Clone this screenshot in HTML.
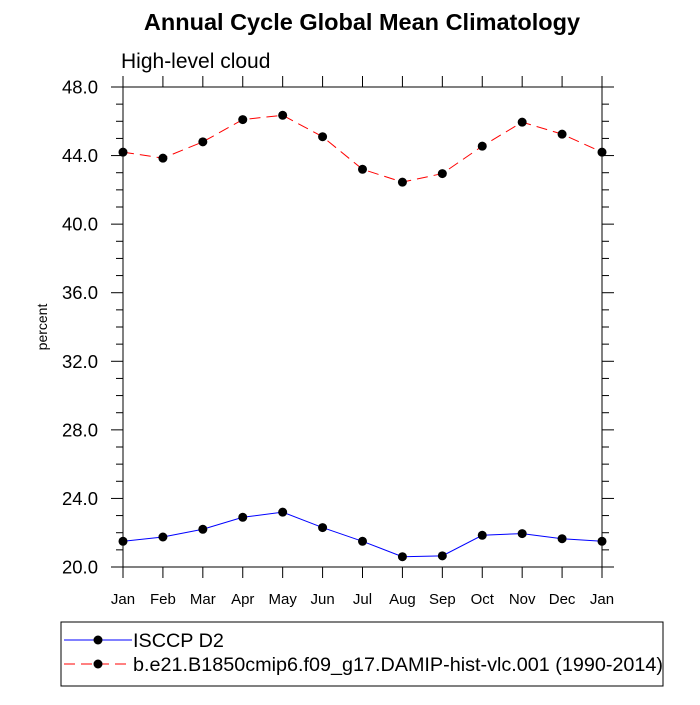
<!DOCTYPE html>
<html><head><meta charset="utf-8"><style>body{margin:0;background:#fff}svg{font-family:"Liberation Sans",sans-serif}</style></head>
<body>
<svg id="chart" width="700" height="700" viewBox="0 0 700 700" xmlns="http://www.w3.org/2000/svg">
<text x="362" y="30" text-anchor="middle" font-size="23.5" font-weight="bold">Annual Cycle Global Mean Climatology</text>
<text x="121" y="68" font-size="21">High-level cloud</text>
<text transform="translate(47,327) rotate(-90)" text-anchor="middle" font-size="14">percent</text>
<g id="axes"></g>
<g id="series"></g>
<g>
<rect x="61" y="622" width="602" height="64" fill="none" stroke="#000" stroke-width="1"/>
<g>
<line x1="64" y1="640" x2="132" y2="640" stroke="#00f" stroke-width="1"/>
<circle cx="98" cy="640" r="4.5" fill="#000"/>
<text x="133" y="647" font-size="19.8">ISCCP D2</text></g>
<g>
<line x1="64" y1="664" x2="132" y2="664" stroke="#f00" stroke-width="1" stroke-dasharray="11,6"/>
<circle cx="98" cy="664" r="4.5" fill="#000"/>
<text x="133" y="671" font-size="19.8">b.e21.B1850cmip6.f09_g17.DAMIP-hist-vlc.001 (1990-2014)</text></g>
</g>
</svg>
<script>
const months = ["Jan","Feb","Mar","Apr","May","Jun","Jul","Aug","Sep","Oct","Nov","Dec","Jan"];
const isccpValues = [21.5,21.75,22.2,22.9,23.2,22.3,21.5,20.6,20.65,21.85,21.95,21.65,21.5];
const modelValues = [44.2,43.85,44.8,46.1,46.35,45.1,43.2,42.45,42.95,44.55,45.95,45.25,44.2];
const yTickLabels = ["20.0","24.0","28.0","32.0","36.0","40.0","44.0","48.0"];
const NS="http://www.w3.org/2000/svg";
const X0=123,X1=602,Y0=567,Y1=87,YMIN=20,YMAX=48;
const xs=i=>X0+(X1-X0)*i/(months.length-1);
const ys=v=>Y0-(v-YMIN)/(YMAX-YMIN)*(Y0-Y1);
function mk(tag,attrs,parent){const e=document.createElementNS(NS,tag);for(const k in attrs)e.setAttribute(k,attrs[k]);parent.appendChild(e);return e;}
const ax=document.getElementById('axes');
const frame=mk('rect',{x:X0,y:Y1,width:X1-X0,height:Y0-Y1,fill:'none',stroke:'#000','stroke-width':1},ax);


for(let v=YMIN;v<=YMAX;v++){
  const major=(v-YMIN)%4===0, L=major?12:7, y=ys(v);
  mk('line',{x1:X0-L,y1:y,x2:X0,y2:y,stroke:'#000'},ax);
  mk('line',{x1:X1,y1:y,x2:X1+L,y2:y,stroke:'#000'},ax);
}
yTickLabels.forEach(s=>{
  const t=mk('text',{x:X0-25,y:ys(parseFloat(s))+6.5,'text-anchor':'end','font-size':18.5},ax);
  t.textContent=s;
  
  
});
months.forEach((m,i)=>{
  const x=xs(i);
  mk('line',{x1:x,y1:Y0,x2:x,y2:Y0+11,stroke:'#000'},ax);
  mk('line',{x1:x,y1:Y1-11,x2:x,y2:Y1,stroke:'#000'},ax);
  const t=mk('text',{x:x,y:604,'text-anchor':'middle','font-size':15},ax);
  t.textContent=m;
  
  
});
const sg=document.getElementById('series');
function series(vals,color,dash,name){
  const g=mk('g',{},sg);
  
  
  const p=mk('polyline',{points:vals.map((v,i)=>xs(i)+','+ys(v)).join(' '),fill:'none',stroke:color,'stroke-width':1},g);
  if(dash)p.setAttribute('stroke-dasharray',dash);
  vals.forEach((v,i)=>{
    const c=mk('circle',{cx:xs(i),cy:ys(v),r:4.5,fill:'#000'},g);
    
    
  });
}
series(isccpValues,'#00f',null,'isccp-series');
series(modelValues,'#f00','11,6','model-series');
</script>
</body></html>
